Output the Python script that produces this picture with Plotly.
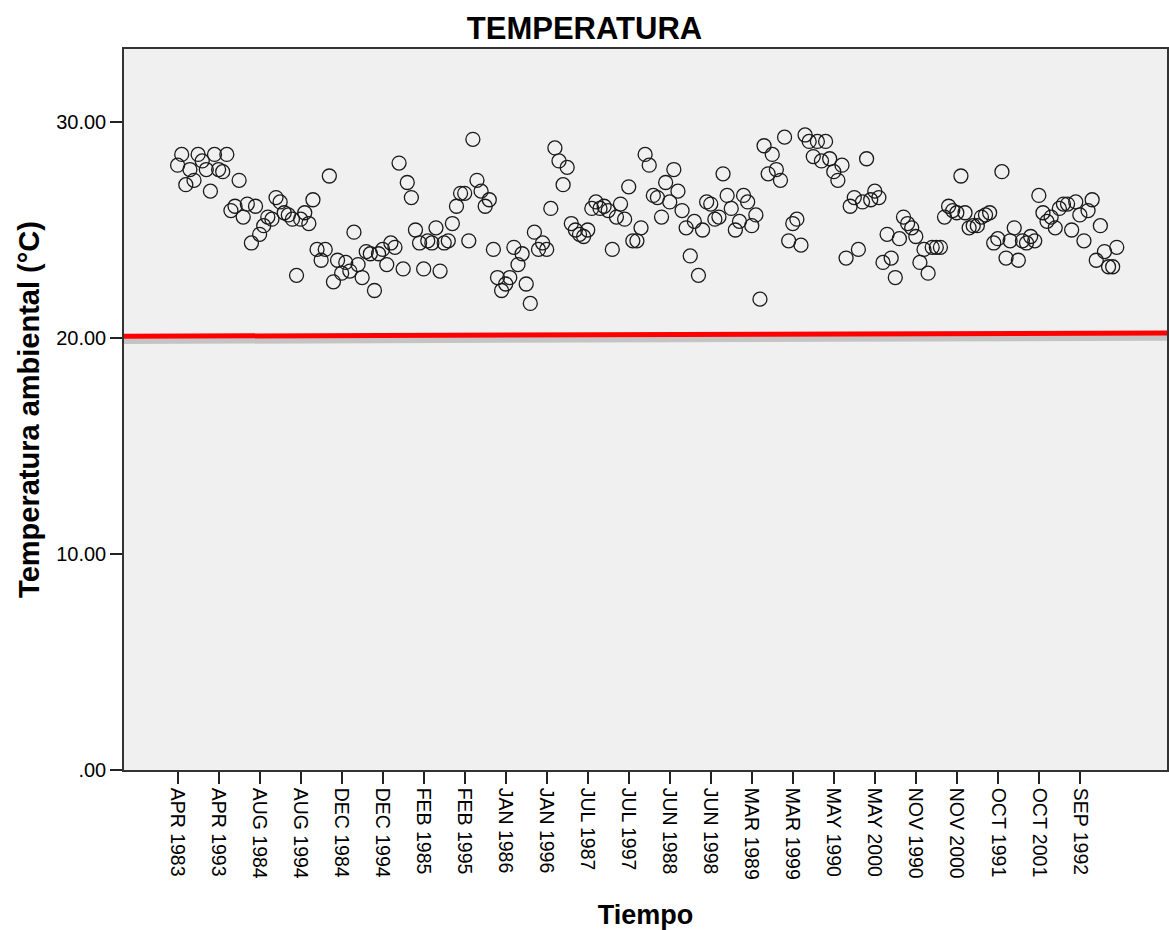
import plotly.graph_objects as go

# ---- data -------------------------------------------------------------
# Category order as SPSS sorts the "MMM YYYY" strings (month name, then year)
MONTH_SPANS = [
    ("APR", 1983, 2001), ("AUG", 1983, 2001), ("DEC", 1982, 2001),
    ("FEB", 1983, 2001), ("JAN", 1983, 2001), ("JUL", 1983, 2001),
    ("JUN", 1983, 2001), ("MAR", 1983, 2001), ("MAY", 1983, 2001),
    ("NOV", 1982, 2001), ("OCT", 1983, 2001), ("SEP", 1983, 2001),
]
categories = [f"{m} {y}" for m, y0, y1 in MONTH_SPANS for y in range(y0, y1 + 1)]

temperature = [
    28.0, 28.5, 27.1, 27.8, 27.3, 28.5, 28.2, 27.8, 26.8, 28.5,
    27.8, 27.7, 28.5, 25.9, 26.1, 27.3, 25.6, 26.2, 24.4, 26.1,
    24.8, 25.2, 25.6, 25.5, 26.5, 26.3, 25.8, 25.7, 25.5, 22.9,
    25.5, 25.8, 25.3, 26.4, 24.1, 23.6, 24.1, 27.5, 22.6, 23.6,
    23.0, 23.5, 23.1, 24.9, 23.4, 22.8, 24.0, 23.9, 22.2, 23.9,
    24.1, 23.4, 24.4, 24.2, 28.1, 23.2, 27.2, 26.5, 25.0, 24.4,
    23.2, 24.5, 24.4, 25.1, 23.1, 24.4, 24.5, 25.3, 26.1, 26.7,
    26.7, 24.5, 29.2, 27.3, 26.8, 26.1, 26.4, 24.1, 22.8, 22.2,
    22.5, 22.8, 24.2, 23.4, 23.9, 22.5, 21.6, 24.9, 24.1, 24.4,
    24.1, 26.0, 28.8, 28.2, 27.1, 27.9, 25.3, 25.0, 24.8, 24.7,
    25.0, 26.0, 26.3, 26.0, 26.1, 25.9, 24.1, 25.6, 26.2, 25.5,
    27.0, 24.5, 24.5, 25.1, 28.5, 28.0, 26.6, 26.5, 25.6, 27.2,
    26.3, 27.8, 26.8, 25.9, 25.1, 23.8, 25.4, 22.9, 25.0, 26.3,
    26.2, 25.5, 25.6, 27.6, 26.6, 26.0, 25.0, 25.4, 26.6, 26.3,
    25.2, 25.7, 21.8, 28.9, 27.6, 28.5, 27.8, 27.3, 29.3, 24.5,
    25.3, 25.5, 24.3, 29.4, 29.1, 28.4, 29.1, 28.2, 29.1, 28.3,
    27.7, 27.3, 28.0, 23.7, 26.1, 26.5, 24.1, 26.3, 28.3, 26.4,
    26.8, 26.5, 23.5, 24.8, 23.7, 22.8, 24.6, 25.6, 25.3, 25.1,
    24.7, 23.5, 24.1, 23.0, 24.2, 24.2, 24.2, 25.6, 26.1, 25.9,
    25.8, 27.5, 25.8, 25.1, 25.2, 25.2, 25.6, 25.7, 25.8, 24.4,
    24.6, 27.7, 23.7, 24.5, 25.1, 23.6, 24.5, 24.4, 24.7, 24.5,
    26.6, 25.8, 25.4, 25.6, 25.1, 26.0, 26.2, 26.2, 25.0, 26.3,
    25.7, 24.5, 25.9, 26.4, 23.6, 25.2, 24.0, 23.3, 23.3, 24.2,
]

reference_line = [20.08, 20.23]  # reference line value at left / right edge

y_tick_values = [0, 10, 20, 30]
y_tick_labels = [".00", "10.00", "20.00", "30.00"]
x_tick_step = 10

# ---- figure -------------------------------------------------------------
FONT = "Arial, Liberation Sans, sans-serif"
positions = list(range(len(categories)))
tick_pos = positions[::x_tick_step]
tick_txt = categories[::x_tick_step]

fig = go.Figure()
fig.add_trace(go.Scatter(
    x=positions, y=temperature, mode="markers",
    marker=dict(symbol="circle-open", size=14, color="#1a1a1a",
                line=dict(width=1.3, color="#1a1a1a")),
    customdata=categories,
    hovertemplate="%{customdata}<br>%{y:.2f} °C<extra></extra>",
    showlegend=False,
))

# reference line with a soft shadow underneath
fig.add_shape(type="line", xref="paper", yref="y", x0=0, x1=1,
              y0=reference_line[0] - 0.22, y1=reference_line[1] - 0.22,
              line=dict(color="rgba(0,0,0,0.18)", width=6), layer="above")
fig.add_shape(type="line", xref="paper", yref="y", x0=0, x1=1,
              y0=reference_line[0], y1=reference_line[1],
              line=dict(color="#ff0000", width=5), layer="above")

fig.update_layout(
    width=1169, height=930,
    margin=dict(l=124, r=0, t=49, b=160, pad=0),
    paper_bgcolor="white", plot_bgcolor="#f0f0f0",
    font=dict(family=FONT, color="black"),
    title=dict(text="TEMPERATURA", x=0.5, xref="container", xanchor="center",
               y=0.97, yref="container", yanchor="middle",
               font=dict(family=FONT, size=31, weight="bold", color="black")),
)
fig.update_xaxes(
    range=[-13.07, 241.25], tickmode="array", tickvals=tick_pos, ticktext=tick_txt,
    tickangle=90, ticks="outside", ticklen=12, tickwidth=1.5, tickcolor="#222",
    tickfont=dict(family=FONT, size=19.5, color="black"),
    showgrid=False, zeroline=False,
    showline=True, linecolor="#333", linewidth=1.5, mirror=True,
    title=dict(text="Tiempo", standoff=26,
               font=dict(family=FONT, size=27, weight="bold", color="black")),
)
fig.update_yaxes(
    range=[0, 33.38], tickmode="array", tickvals=y_tick_values, ticktext=y_tick_labels,
    ticks="outside", ticklen=12, tickwidth=1.5, tickcolor="#222",
    tickfont=dict(family=FONT, size=20, color="black"),
    showgrid=False, zeroline=False,
    showline=True, linecolor="#333", linewidth=1.5, mirror=True,
    title=dict(text="Temperatura ambiental (°C)", standoff=8,
               font=dict(family=FONT, size=29, weight="bold", color="black")),
)

fig.write_html("out.html",
               config={"displayModeBar": False},
               post_script="document.body.style.margin='0';document.body.style.overflow='hidden';")
